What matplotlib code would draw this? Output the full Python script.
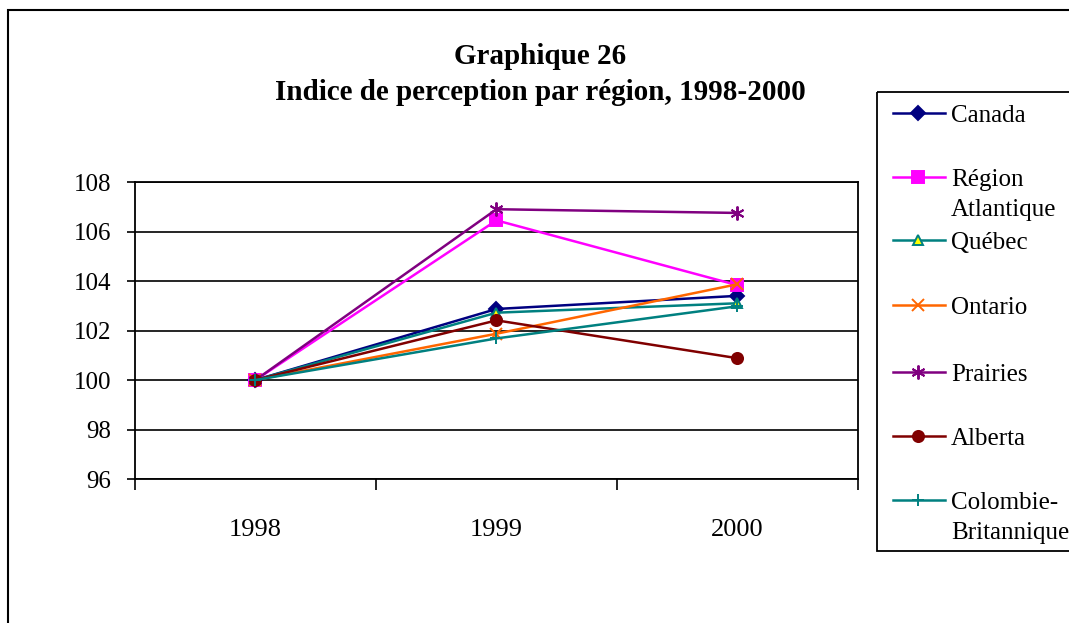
import matplotlib
matplotlib.use("Agg")
import matplotlib.pyplot as plt
from matplotlib.lines import Line2D
from matplotlib.patches import Rectangle

plt.rcParams['font.family'] = ['Liberation Serif', 'DejaVu Serif']

# Data
years = ['1998', '1999', '2000']
canada = [100.0, 102.87, 103.4]
atlantique = [100.0, 106.45, 103.83]
quebec = [100.0, 102.72, 103.1]
ontario = [100.0, 101.87, 103.87]
prairies = [100.0, 106.9, 106.75]
alberta = [100.0, 102.41, 100.88]
colombie = [100.0, 101.68, 102.98]

series = [
    ('Canada', canada, '#000080', 'D', '#000080', 7),
    ('Région\nAtlantique', atlantique, '#FF00FF', 's', '#FF00FF', 8),
    ('Québec', quebec, '#008080', '^', '#FFFF00', 7),
    ('Ontario', ontario, '#FF6600', 'x', '#FF6600', 8),
    ('Prairies', prairies, '#800080', (6, 2, 0), '#800080', 10),
    ('Alberta', alberta, '#800000', 'o', '#800000', 8),
    ('Colombie-\nBritannique', colombie, '#008080', '+', '#008080', 8),
]

W, H = 1069, 623
fig = plt.figure(figsize=(W / 100, H / 100), dpi=100)

# outer chart frame
fig.patches.append(Rectangle((8 / W, -0.05), 1.1, 1 - 10 / H + 0.05,
                             transform=fig.transFigure, fill=False,
                             edgecolor='black', linewidth=1.5))

ax = fig.add_axes([135 / W, (H - 479) / H, 723 / W, 297 / H])
x = list(range(len(years)))
for name, vals, col, mk, face, ms in series:
    ax.plot(x, vals, color=col, linewidth=1.8, marker=mk, markersize=ms,
            markerfacecolor=face, markeredgecolor=col, markeredgewidth=1.4)

ax.set_xlim(-0.5, 2.5)
ax.set_ylim(96, 108)
ax.set_yticks(range(96, 109, 2))
ax.yaxis.grid(True, color='black', linewidth=1.2)
ax.set_axisbelow(True)
ax.set_xticks([-0.5, 0.5, 1.5, 2.5])
ax.set_xticklabels([])
ax.set_xticks(x, minor=True)
ax.set_xticklabels(years, minor=True)
ax.tick_params(axis='x', which='major', direction='out', length=8, width=1.2)
ax.tick_params(axis='x', which='minor', length=0, pad=29, labelsize=19)
ax.tick_params(axis='y', direction='out', length=6, width=1.2, labelsize=18, pad=11)
for s in ax.spines.values():
    s.set_linewidth(1.3)

fig.text(540 / W, 1 - 57 / H, 'Graphique 26', ha='center', va='center',
         fontsize=21, fontweight='bold')
fig.text(540 / W, 1 - 92 / H, 'Indice de perception par région, 1998-2000',
         ha='center', va='center', fontsize=21, fontweight='bold')

# legend box drawn by hand to match the uneven spacing
lax = fig.add_axes([0, 0, 1, 1])
lax.set_xlim(0, W)
lax.set_ylim(H, 0)
lax.axis('off')
lax.add_patch(Rectangle((877, 92), 200, 459, fill=False, edgecolor='black',
                        linewidth=1.3))
entry_y = [113, 177, 240, 305, 372, 436, 500]
for (name, vals, col, mk, face, ms), yy in zip(series, entry_y):
    lax.add_line(Line2D([893, 945], [yy, yy], color=col, linewidth=1.8))
    lax.plot([918], [yy], marker=mk, markersize=ms, color=col,
             markerfacecolor=face, markeredgecolor=col, markeredgewidth=1.4)
    for i, line in enumerate(name.split('\n')):
        lax.text(951, yy + 9 + 30 * i, line, ha='left', va='baseline',
                 fontsize=18)

fig.savefig('out.png', dpi=100)
